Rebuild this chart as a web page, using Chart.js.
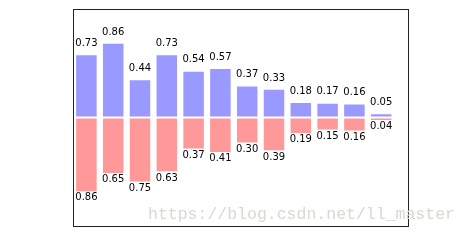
<!DOCTYPE html>
<html>
<head>
<meta charset="utf-8">
<script src="https://cdn.jsdelivr.net/npm/chart.js@4/dist/chart.umd.min.js"></script>
<style>
html,body{margin:0;padding:0;background:#fff;}
#wrap{position:relative;width:469px;height:241px;}
#wm{position:absolute;left:148px;top:205px;font-family:"Liberation Mono",monospace;font-size:16.5px;color:#d9d9d2;white-space:nowrap;pointer-events:none;}
</style>
</head>
<body>
<div id="wrap"><canvas id="c" width="469" height="241"></canvas><div id="wm">https://blog.csdn.net/ll_master</div></div>
<script>
const X = [0,1,2,3,4,5,6,7,8,9,10,11];
const Y1 = [0.73,0.86,0.44,0.73,0.54,0.57,0.37,0.33,0.18,0.17,0.16,0.05];
const Y2 = [0.86,0.65,0.75,0.63,0.37,0.41,0.30,0.39,0.19,0.15,0.16,0.04];

const labelPlugin = {
  id:'labels',
  afterDatasetsDraw(chart){
    const ctx = chart.ctx, xs = chart.scales.x, ys = chart.scales.y;
    ctx.save();
    ctx.fillStyle = '#000';
    ctx.font = '10px "DejaVu Sans"';
    ctx.textAlign = 'center';
    ctx.textBaseline = 'alphabetic';
    X.forEach((x,i)=>{
      const px = xs.getPixelForValue(x);
      ctx.fillText(Y1[i].toFixed(2), px, ys.getPixelForValue(Y1[i]+0.05) - 4);
      ctx.fillText(Y2[i].toFixed(2), px, ys.getPixelForValue(-Y2[i]-0.05) + 4);
    });
    const a = chart.chartArea;
    ctx.strokeStyle = '#222';
    ctx.lineWidth = 1;
    ctx.strokeRect(Math.round(a.left)+0.5, Math.round(a.top)+0.5, Math.round(a.right-a.left), Math.round(a.bottom-a.top));
    ctx.restore();
  }
};

new Chart(document.getElementById('c'), {
  type:'bar',
  data:{
    datasets:[
      {data:X.map((x,i)=>({x:x,y:Y1[i]})), backgroundColor:'#9999ff', borderColor:'#ffffff', borderWidth:1, borderSkipped:false, barPercentage:0.84, categoryPercentage:1},
      {data:X.map((x,i)=>({x:x,y:-Y2[i]})), backgroundColor:'#ff9999', borderColor:'#ffffff', borderWidth:1, borderSkipped:false, barPercentage:0.84, categoryPercentage:1}
    ]
  },
  options:{
    responsive:false,
    animation:false,
    layout:{padding:{left:73,right:61,top:9,bottom:15}},
    plugins:{legend:{display:false},tooltip:{enabled:false}},
    scales:{
      x:{type:'linear',min:-0.5,max:12,offset:false,grid:{offset:false},stacked:true,display:false},
      y:{min:-1.25,max:1.25,stacked:true,display:false}
    }
  },
  plugins:[labelPlugin]
});
</script>
</body>
</html>
